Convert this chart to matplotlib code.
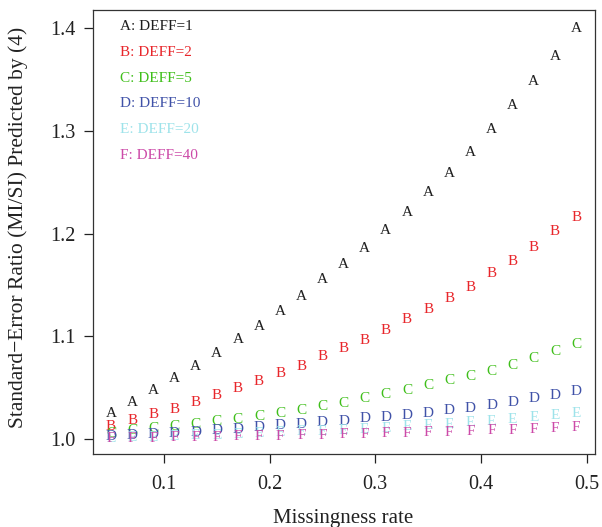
import numpy as np
import matplotlib
matplotlib.use("Agg")
import matplotlib.pyplot as plt

plt.rcParams['font.family'] = ['Liberation Serif', 'DejaVu Serif']

# missingness rates on the horizontal axis
rates = [0.05, 0.07, 0.09, 0.11, 0.13, 0.15, 0.17, 0.19, 0.21, 0.23, 0.25, 0.27,
         0.29, 0.31, 0.33, 0.35, 0.37, 0.39, 0.41, 0.43, 0.45, 0.47, 0.49]

# predicted standard-error ratio MI/SI for each design effect
se_deff1 = [1.025, 1.036, 1.047, 1.059, 1.071, 1.083, 1.097, 1.110, 1.124, 1.139,
            1.155, 1.170, 1.186, 1.203, 1.221, 1.240, 1.259, 1.279, 1.301, 1.325,
            1.348, 1.373, 1.400]
se_deff2 = [1.012, 1.018, 1.024, 1.029, 1.036, 1.042, 1.049, 1.056, 1.064, 1.071,
            1.080, 1.088, 1.096, 1.106, 1.116, 1.126, 1.137, 1.148, 1.161, 1.173,
            1.187, 1.202, 1.216]
se_deff5 = [1.005, 1.008, 1.010, 1.012, 1.014, 1.017, 1.019, 1.022, 1.025, 1.028,
            1.032, 1.035, 1.039, 1.043, 1.047, 1.052, 1.057, 1.061, 1.066, 1.072,
            1.078, 1.085, 1.092]
se_deff10 = [1.002, 1.003, 1.004, 1.005, 1.0065, 1.008, 1.009, 1.011, 1.013, 1.014,
             1.016, 1.017, 1.020, 1.021, 1.023, 1.025, 1.028, 1.030, 1.033, 1.036,
             1.039, 1.0425, 1.046]
se_deff20 = [1.0008, 1.0012, 1.0018, 1.0025, 1.003, 1.0037, 1.0045, 1.005, 1.006, 1.007,
             1.0078, 1.0087, 1.0097, 1.0107, 1.012, 1.013, 1.0145, 1.016, 1.0175, 1.0192,
             1.021, 1.023, 1.0245]
se_deff40 = [1.0003, 1.0005, 1.0008, 1.001, 1.0013, 1.0016, 1.002, 1.0023, 1.0027, 1.003,
             1.0035, 1.004, 1.0045, 1.005, 1.0055, 1.006, 1.0066, 1.0073, 1.008, 1.0087,
             1.0095, 1.0103, 1.011]

letters = ["A", "B", "C", "D", "E", "F"]
deffs = [1, 2, 5, 10, 20, 40]
colors = ["#1e1e1e", "#e8262b", "#3fbf1a", "#4052a8", "#9ee3ea", "#cc4aa8"]
series = [se_deff1, se_deff2, se_deff5, se_deff10, se_deff20, se_deff40]

fig = plt.figure(figsize=(6.02, 5.27), dpi=100)
ax = fig.add_axes([0.1537, 0.1385, 0.834, 0.8425])

# each curve is drawn as its letter at every point, A first and F last
for lab, col, vals in zip(letters, colors, series):
    for x, y in zip(rates, vals):
        ax.text(x, y, lab, color=col, fontsize=11, ha="center", va="center")

ax.set_xlim(0.0325, 0.5075)
ax.set_ylim(0.9854, 1.4178)
ax.set_xticks([0.1, 0.2, 0.3, 0.4, 0.5])
ax.set_xticklabels(["0.1", "0.2", "0.3", "0.4", "0.5"])
ax.set_yticks([1.0, 1.1, 1.2, 1.3, 1.4])
ax.set_yticklabels(["1.0", "1.1", "1.2", "1.3", "1.4"])
ax.tick_params(axis="both", direction="out", length=6.5, width=0.9, labelsize=14.5,
               color="#222222", labelcolor="#222222")
ax.tick_params(axis="x", pad=8.5)
ax.tick_params(axis="y", pad=5.5)
for sp in ax.spines.values():
    sp.set_linewidth(0.9)
    sp.set_color("#333333")

# legend written as coloured text lines
for i, (lab, col, d) in enumerate(zip(letters, colors, deffs)):
    ax.text(0.055, 0.9624 - i * 0.0579, f"{lab}: DEFF={d}", color=col, fontsize=11,
            ha="left", va="center", transform=ax.transAxes)

fig.text(343.5 / 602, 4 / 527, "Missingness rate", fontsize=15, ha="center",
         va="baseline", color="#222222")
fig.text(18 / 602, (527 - 227) / 527,
         "Standard\u2212Error Ratio (MI/SI) Predicted by (4)", fontsize=15.5,
         rotation=90, ha="center", va="center", color="#222222")

fig.savefig("out.png", dpi=100)
